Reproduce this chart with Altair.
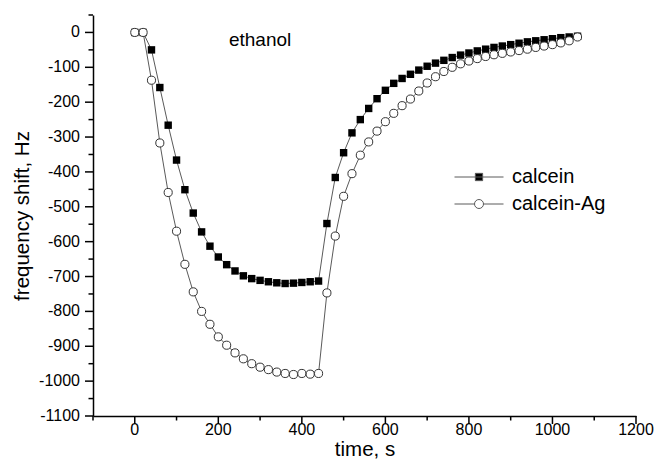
import altair as alt
import pandas as pd

# ---- data ----
series_names = ["calcein", "calcein-Ag"]
times = list(range(0, 1061, 20))
calcein = [0, 0, -50, -158, -266, -366, -451, -518, -572, -613, -644, -666, -684, -698,
           -706, -711, -715, -718, -720, -719, -717, -715, -713,
           -548, -416, -345, -288, -250, -218, -190, -166, -146, -132, -120, -108,
           -97, -88, -80, -72, -65, -59, -53, -48, -43, -39, -35, -31, -27, -24,
           -21, -18, -15, -13, -11]
calcein_ag = [0, 0, -137, -317, -459, -570, -665, -744, -800, -837, -873, -897, -919, -936,
              -950, -960, -967, -974, -978, -981, -978, -980, -978,
              -747, -584, -470, -405, -352, -314, -283, -256, -232, -210, -191, -168,
              -145, -127, -112, -100, -90, -82, -75, -69, -64, -60, -56, -52, -48, -43,
              -39, -35, -30, -24, -13]
x_major = list(range(0, 1201, 200))
x_minor = list(range(-100, 1201, 200))
y_major = list(range(-1100, 1, 100))
y_minor = list(range(-1050, 51, 100))
annotation = ["ethanol"]
annotation_at = {"time": [300], "shift": [-22]}

df = pd.DataFrame({
    "time": times * 2,
    "shift": calcein + calcein_ag,
    "series": [series_names[0]] * len(times) + [series_names[1]] * len(times),
})
df_xmaj = pd.DataFrame({"time": x_major, "label": [str(v) for v in x_major]})
df_xmin = pd.DataFrame({"time": x_minor})
df_ymaj = pd.DataFrame({"shift": y_major, "label": [str(v) for v in y_major]})
df_ymin = pd.DataFrame({"shift": y_minor})
df_note = pd.DataFrame({"label": annotation, **annotation_at})

FONT = "Liberation Sans"
LINE_GRAY = "#5a5a5a"
PLOT_W, PLOT_H = 543, 401
MAJOR, MINOR = 8, 4.5

x_enc = alt.X("time:Q", scale=alt.Scale(domain=[-100, 1200], nice=False, zero=False),
              axis=alt.Axis(title="time, s", ticks=False, labels=False, titlePadding=23))
y_enc = alt.Y("shift:Q", scale=alt.Scale(domain=[-1100, 50], nice=False, zero=False),
              axis=alt.Axis(title="frequency shift,  Hz", ticks=False, labels=False,
                            titlePadding=61))

base = alt.Chart(df)

lines = base.mark_line(color=LINE_GRAY, strokeWidth=1).encode(
    x=x_enc, y=y_enc, detail="series:N", order="time:Q")

squares = base.transform_filter(alt.datum.series == series_names[0]).mark_point(
    shape="square", filled=True, size=55, opacity=1, color="black").encode(x=x_enc, y=y_enc)

circles = base.transform_filter(alt.datum.series == series_names[1]).mark_point(
    shape="circle", filled=True, size=66, opacity=1, fill="white", stroke="#333333",
    strokeWidth=1).encode(x=x_enc, y=y_enc)

# axis ticks and tick labels, positioned through the shared scales
tick_style = dict(color="black", strokeWidth=1.5)
x_major_ticks = alt.Chart(df_xmaj).mark_rule(**tick_style).encode(
    x=x_enc, y=alt.value(PLOT_H), y2=alt.value(PLOT_H + MAJOR))
x_minor_ticks = alt.Chart(df_xmin).mark_rule(**tick_style).encode(
    x=x_enc, y=alt.value(PLOT_H), y2=alt.value(PLOT_H + MINOR))
y_major_ticks = alt.Chart(df_ymaj).mark_rule(**tick_style).encode(
    y=y_enc, x=alt.value(0), x2=alt.value(-MAJOR))
y_minor_ticks = alt.Chart(df_ymin).mark_rule(**tick_style).encode(
    y=y_enc, x=alt.value(0), x2=alt.value(-MINOR))
x_labels = alt.Chart(df_xmaj).mark_text(
    font=FONT, fontSize=16, color="black", align="center", baseline="top").encode(
    x=x_enc, y=alt.value(PLOT_H + MAJOR - 2), text="label:N")
y_labels = alt.Chart(df_ymaj).mark_text(
    font=FONT, fontSize=16, color="black", align="right", baseline="middle").encode(
    y=y_enc, x=alt.value(-MAJOR - 5), text="label:N")

# legend: line segment with marker, merged from shape/fill/stroke of one field
path_sq = "M-4.9,0H4.9M-0.73,-0.73H0.73V0.73H-0.73Z"
path_ci = ("M-4.9,0H-0.9M0.9,0H4.9M0.9,0A0.9,0.9 0 1,1 -0.9,0"
           "A0.9,0.9 0 1,1 0.9,0Z")
leg = alt.Legend(title=None, orient="none", legendX=376, legendY=152,
                 labelFontSize=20, labelFont=FONT, labelColor="black",
                 symbolSize=100, symbolStrokeWidth=1, symbolOpacity=1,
                 labelOffset=23, rowPadding=7, padding=0)

legend_layer = base.transform_filter("false").mark_point(
    filled=True, size=100, opacity=1, strokeWidth=1).encode(
    x=x_enc, y=y_enc,
    shape=alt.Shape("series:N", scale=alt.Scale(domain=series_names, range=[path_sq, path_ci]),
                    legend=leg),
    fill=alt.Fill("series:N", scale=alt.Scale(domain=series_names, range=["black", "white"]),
                  legend=leg),
    stroke=alt.Stroke("series:N", scale=alt.Scale(domain=series_names, range=[LINE_GRAY, LINE_GRAY]),
                      legend=leg),
)

note = alt.Chart(df_note).mark_text(font=FONT, fontSize=19, color="black").encode(
    x=x_enc, y=y_enc, text="label:N")

chart = alt.layer(lines, squares, circles, x_major_ticks, x_minor_ticks, y_major_ticks,
                  y_minor_ticks, x_labels, y_labels, legend_layer, note).properties(
    width=PLOT_W, height=PLOT_H,
    padding={"left": 93, "top": 15, "right": 20, "bottom": 51},
    autosize=alt.AutoSizeParams(type="none"),
).configure_view(stroke=None).configure_axis(
    titleFont=FONT, titleFontSize=20.5, titleFontWeight="normal", titleColor="black",
    domainColor="black", domainWidth=1.5, grid=False,
)

chart.save("out.html", embed_options={"renderer": "svg", "actions": False})
